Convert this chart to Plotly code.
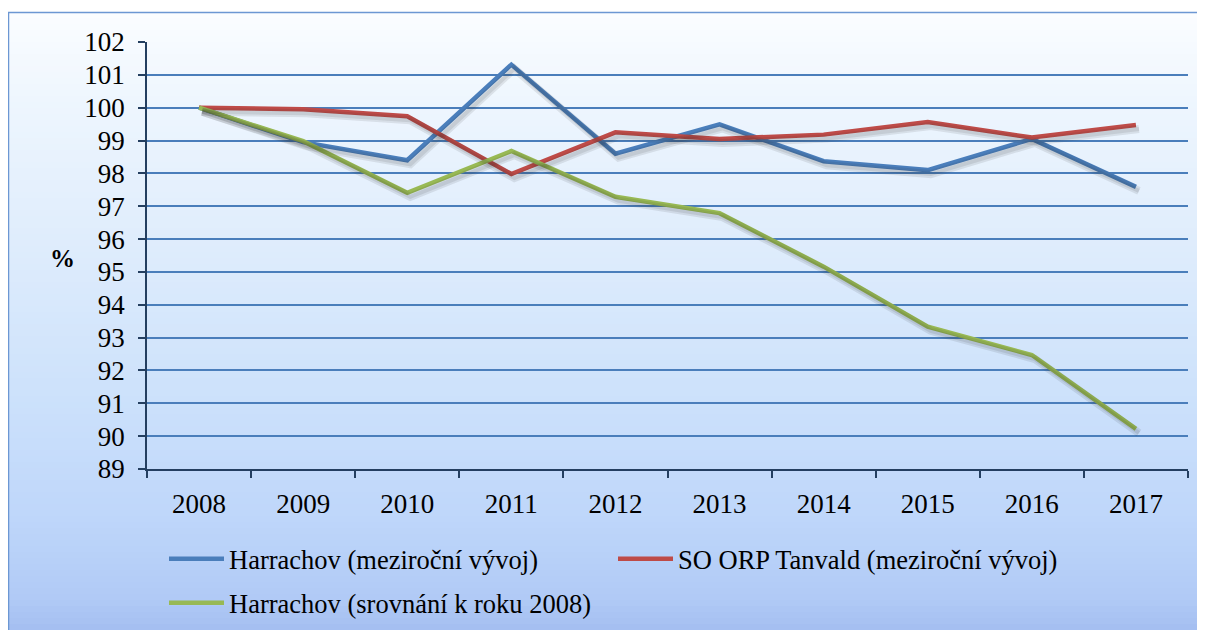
import plotly.graph_objects as go

years = ["2008", "2009", "2010", "2011", "2012", "2013", "2014", "2015", "2016", "2017"]
harrachov_yoy = [100, 98.95, 98.40, 101.31, 98.60, 99.49, 98.37, 98.10, 99.05, 97.59]
tanvald_yoy = [100, 99.95, 99.74, 97.98, 99.25, 99.05, 99.18, 99.56, 99.09, 99.47]
harrachov_2008 = [100, 98.98, 97.41, 98.68, 97.29, 96.79, 95.16, 93.33, 92.47, 90.22]

names = ["Harrachov (meziroční vývoj)", "SO ORP Tanvald (meziroční vývoj)",
         "Harrachov (srovnání k roku 2008)"]
colors = ["#4a7ebb", "#be4b48", "#98b954"]
series = [harrachov_yoy, tanvald_yoy, harrachov_2008]
legends = ["legend", "legend2", "legend3"]

OFF = 8  # page body margin
WIDTH, HEIGHT = 1205 - OFF, 630 - OFF
L, R, T, B = 147 - OFF, 17, 42 - OFF, 161
PW = WIDTH - L - R
PH = HEIGHT - T - B
YMIN, YMAX = 89, 102

FONT = "Liberation Serif"
FS = 27
LFS = 26.5

def px_x(sx):
    return (sx - OFF - L) / PW

def px_y(sy):
    return (HEIGHT - B - (sy - OFF)) / PH

fig = go.Figure()

for s in series:
    fig.add_trace(go.Scatter(x=years, y=s, mode="lines", xaxis="x2", yaxis="y2",
                             line=dict(color="rgba(40,40,40,0.10)", width=8),
                             hoverinfo="skip", showlegend=False))
    fig.add_trace(go.Scatter(x=years, y=s, mode="lines", xaxis="x2", yaxis="y2",
                             line=dict(color="rgba(40,40,40,0.10)", width=4),
                             hoverinfo="skip", showlegend=False))

for s, n, c, lg in zip(series, names, colors, legends):
    fig.add_trace(go.Scatter(x=years, y=s, mode="lines", name=n, legend=lg,
                             line=dict(color=c, width=4.5)))

stops = [(12, (251, 253, 255)), (100, (238, 246, 254)), (250, (222, 236, 252)),
         (400, (204, 225, 251)), (520, (190, 214, 250)), (600, (176, 202, 246)),
         (630, (164, 190, 240))]

def col_at(py):
    for (y0, c0), (y1, c1) in zip(stops[:-1], stops[1:]):
        if y0 <= py <= y1:
            t = (py - y0) / (y1 - y0)
            return tuple(round(a + (b - a) * t) for a, b in zip(c0, c1))
    return stops[-1][1]

shapes = []
band = 6
py = 12
while py < 640:
    c = col_at(py + band / 2)
    shapes.append(dict(type="rect", xref="paper", yref="paper", layer="below",
                       x0=px_x(8), x1=px_x(1201), y0=px_y(py + band + 0.5), y1=px_y(py),
                       fillcolor="rgb(%d,%d,%d)" % c, line=dict(width=0)))
    py += band
shapes.append(dict(type="rect", xref="paper", yref="paper", layer="below",
                   x0=px_x(8.5), x1=px_x(1201), y0=px_y(645), y1=px_y(12.5),
                   fillcolor="rgba(0,0,0,0)", line=dict(color="#6c97d3", width=1.5)))

legend_common = dict(orientation="h", xanchor="left", yanchor="top",
                     bgcolor="rgba(0,0,0,0)", font=dict(family=FONT, size=LFS, color="black"),
                     itemwidth=55)

fig.update_layout(
    width=WIDTH, height=HEIGHT,
    margin=dict(l=L, r=R, t=T, b=B, autoexpand=False),
    paper_bgcolor="white",
    plot_bgcolor="rgba(0,0,0,0)",
    font=dict(family=FONT, size=FS, color="black"),
    shapes=shapes,
    xaxis=dict(type="category", range=[-0.5, 9.5], showline=True, linecolor="#243f60",
               linewidth=1.5, ticks="outside", tickson="boundaries", ticklen=7,
               tickcolor="#243f60", tickwidth=1.5, showgrid=False, zeroline=False,
               tickfont=dict(family=FONT, size=FS), ticklabelstandoff=10),
    yaxis=dict(range=[YMIN, YMAX], dtick=1, tick0=89, showline=True, linecolor="#243f60",
               linewidth=1.5, ticks="outside", ticklen=7, tickcolor="#243f60",
               tickwidth=1.5, showgrid=True, gridcolor="#4a7ebb", gridwidth=1.5,
               zeroline=False, tickfont=dict(family=FONT, size=FS), ticklabelstandoff=8),
    xaxis2=dict(type="category", overlaying="x", visible=False,
                range=[-0.5 - 3 / 104.1, 9.5 - 3 / 104.1]),
    yaxis2=dict(overlaying="y", visible=False,
                range=[YMIN + 4 / 32.9, YMAX + 4 / 32.9]),
    legend=dict(x=px_x(164), y=px_y(535), **legend_common),
    legend2=dict(x=px_x(613), y=px_y(535), **legend_common),
    legend3=dict(x=px_x(164), y=px_y(579), **legend_common),
    annotations=[dict(text="<b>%</b>", x=px_x(62), y=px_y(258), xref="paper", yref="paper",
                      xanchor="center", yanchor="middle", showarrow=False,
                      font=dict(family=FONT, size=25, color="black"))],
    showlegend=True,
)

fig.write_html("out.html")
